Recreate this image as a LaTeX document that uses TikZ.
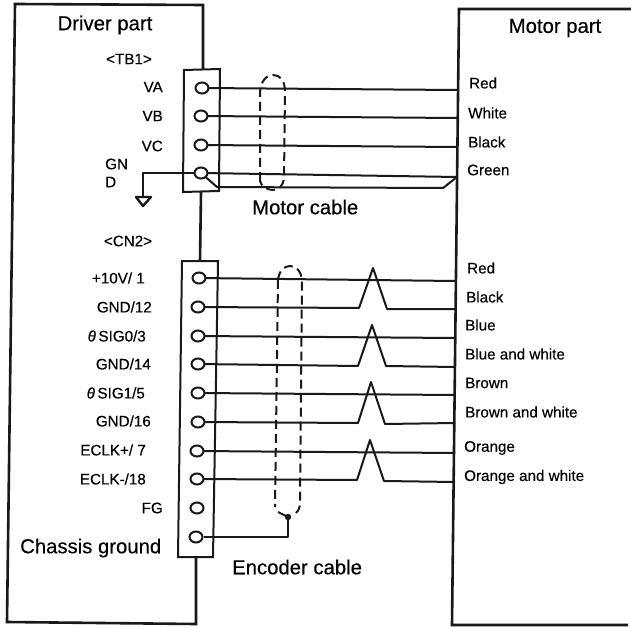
\documentclass[tikz,border=0pt]{standalone}
\usepackage{fontspec}
\setmainfont{Liberation Sans}[FakeBold=0.3]
\usetikzlibrary{shapes.geometric}
\begin{document}
\begin{tikzpicture}[x=1pt,y=-1pt,
  wire/.style={line width=2pt,black!90,line join=round},
  boxl/.style={line width=2.6pt,black!90,line join=miter},
  conn/.style={line width=2pt,black!90},
  cable/.style={line width=2pt,black!90,dash pattern=on 9pt off 5pt},
  term/.style={ellipse,draw=black!90,fill=white,line width=2pt,minimum width=13pt,minimum height=11pt,inner sep=0pt},
  big/.style={font=\fontsize{20.3}{22}\selectfont,inner sep=0pt},
  lab/.style={font=\fontsize{15.2}{17}\selectfont,inner sep=0pt}]
\useasboundingbox (0,0) rectangle (631,628);
\fill[white] (0,0) rectangle (631,628);
% outer frames
\coordinate (dtr) at (203,5);
\coordinate (dtl) at (15,4);
\coordinate (dbl) at (7,622);
\coordinate (dbr) at (196,624);
\coordinate (mtl) at (459,9);
\coordinate (mtr) at (631,9);
\coordinate (mbl) at (452,625);
\coordinate (mbr) at (628,625);
\draw[boxl] (203,70) -- (dtr) -- (dtl) -- (dbl) -- (dbr) -- (196,557);
\draw[boxl] (mtr) -- (mtl) -- (mbl) -- (mbr);
\draw[boxl] (201,192) -- (200,261);
% connector blocks
\draw[conn] (184,70) -- (220,69) -- (219,191) -- (183,192) -- cycle;
\draw[conn] (182,261) -- (218,261) -- (213,557) -- (178,557) -- cycle;
% right-side ends
\foreach \n/\y in {ea/90,eb/118,ec/147,ed/177} \coordinate (\n) at (457,\y);
\foreach \n/\y in {ra/281,rb/309,rc/338,rd/367,re/395,rf/423,rg/453,rh/482} \coordinate (\n) at (455,\y);
% wires motor
\draw[wire] (202,88) -- (ea);
\draw[wire] (201,116) -- (eb);
\draw[wire] (201,145) -- (ec);
\draw[wire] (201,173) -- (ed);
\draw[wire] (201,173) -- (217,187) -- (443,188) -- (ed);
\coordinate (gnd) at (143,173);
\coordinate (gndb) at (143,197);
\draw[wire] (201,173) -- (gnd) -- (gndb);
\draw[wire,line width=2.4pt] (136,197) -- (151,197) -- (143,206) -- cycle;
% wires encoder
\draw[wire] (199,278) -- (ra);
\draw[wire] (198,307) -- (359,308) -- (373,268) -- (387,309) -- (rb);
\draw[wire] (198,336) -- (rc);
\draw[wire] (198,364) -- (358,366) -- (372,325) -- (386,366) -- (rd);
\draw[wire] (198,393) -- (re);
\draw[wire] (198,422) -- (358,423) -- (371,382) -- (385,424) -- (rf);
\draw[wire] (197,451) -- (rg);
\draw[wire] (197,479) -- (357,480) -- (370,440) -- (384,481) -- (rh);
% terminals
\foreach \n/\x/\y in {ta/202/88,tb/201/116,tc/201/145,td/201/173,
  ca/199/278,cb/198/307,cc/198/336,cd/198/364,ce/198/393,cf/198/422,cg/197/451,ch/197/479,ci/197/508,cj/196/537}
  \node[term] (\n) at (\x,\y) {};
% shields
\draw[cable] (260,181) -- (260,92) .. controls (261,80) and (267,75) .. (273,75) .. controls (280,75) and (285,80) .. (285,92) -- (284,178) .. controls (283,186) and (279,190) .. (273,190) .. controls (267,190) and (261,186) .. (260,181);
\draw[cable] (278,280) .. controls (279,271) and (284,266) .. (290,266) .. controls (296,266) and (301,271) .. (302,280) -- (300,502) .. controls (300,507) and (299,510) .. (296,513);
\draw[cable] (278,280) -- (275,507);
\coordinate (jn) at (288,517);
\draw[wire] (278,512) -- (jn);
\draw[wire] (cj) -- (288,537) -- (jn);
\fill[black!90] (jn) circle (3.2pt);
% labels
\node[big] (n1) at (105,25) {Driver part};
\node[big] (n2) at (555,28) {Motor part};
\node[big,anchor=west] (n3) at (252,207) {Motor cable};
\node[big,anchor=west] (n4) at (232,567) {Encoder cable};
\node[big,anchor=west] (n5) at (20,548) {Chassis ground};
\node[lab] (l1) at (129,59) {<TB1>};
\node[lab] (l2) at (128,241) {<CN2>};
\foreach \n/\t/\x/\y in {l3/VA/163/87,l4/VB/163/116,l5/VC/163/146,
  l6/{+10V/ 1}/145/278,l7/{GND/12}/152/307,l8/{{\itshape θ}\,SIG0/3}/146/336,l9/{GND/14}/151/364,
  l10/{{\itshape θ}\,SIG1/5}/145/393,l11/{GND/16}/151/421,l12/{ECLK+/ 7}/146/450,l13/{ECLK-/18}/146/479,l14/FG/163/508}
  \node[lab,anchor=east] (\n) at (\x,\y) {\t};
\node[lab,anchor=west] (l15) at (105,164) {GN};
\node[lab,anchor=west] (l16) at (105,182) {D};
\foreach \n/\t/\x/\y in {m1/Red/469/83,m2/White/468/113,m3/Black/468/142,m4/Green/467/170,
  m5/Red/467/268,m6/Black/466/297,m7/Blue/465/325,m8/Blue and white/465/354,m9/Brown/465/383,
  m10/Brown and white/465/412,m11/Orange/464/448,m12/Orange and white/464/477}
  \node[lab,anchor=west] (\n) at (\x,\y) {\t};
\end{tikzpicture}
\end{document}
